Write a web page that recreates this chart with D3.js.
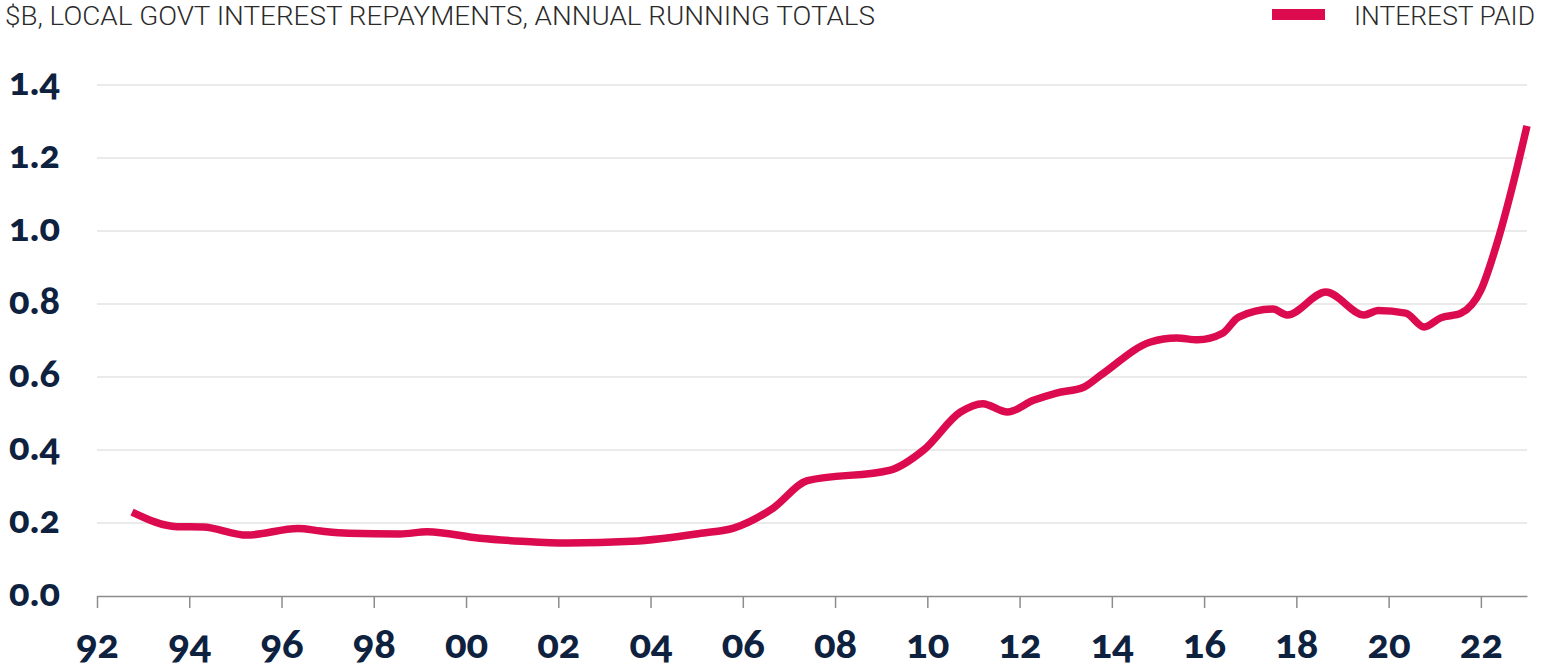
<!DOCTYPE html>
<html>
<head>
<meta charset="utf-8">
<script src="https://cdn.jsdelivr.net/npm/d3@7"></script>
<style>
  html, body { margin: 0; padding: 0; background: #fff; }
  svg { display: block; }
  .title, .legend-text { font-family: Roboto, "Liberation Sans", sans-serif; font-weight: 300; fill: #2a2a2a; }
  .tick-label { font-family: Lato, "Noto Sans", sans-serif; font-weight: 900; fill: #0e2240; font-variant-numeric: oldstyle-nums; font-feature-settings: "onum" 1; }
</style>
</head>
<body>
<svg id="chart" width="1541" height="670"></svg>
<script>
// ---- data ----
const titleText = "$B, LOCAL GOVT INTEREST REPAYMENTS, ANNUAL RUNNING TOTALS";
const seriesName = "INTEREST PAID";
const years = [1992.76, 1993.74, 1994.30, 1995.25, 1996.36, 1996.85, 1997.45, 1998.57, 1999.16, 2000.30,
  2001.20, 2002.20, 2003.60, 2005.10, 2005.80, 2006.66, 2007.40, 2009.20, 2009.92, 2010.72,
  2011.20, 2011.74, 2012.30, 2012.80, 2013.39, 2013.76, 2014.84, 2015.40, 2015.86, 2016.40,
  2016.75, 2017.49, 2017.80, 2018.64, 2019.47, 2019.77, 2020.37, 2020.77, 2021.13, 2021.57,
  2022.00, 2022.37, 2022.72, 2023.00];
const interestPaid = [0.230, 0.190, 0.189, 0.167, 0.185, 0.178, 0.172, 0.170, 0.176, 0.158,
  0.150, 0.145, 0.150, 0.172, 0.186, 0.241, 0.316, 0.345, 0.400, 0.504,
  0.527, 0.504, 0.536, 0.556, 0.572, 0.605, 0.696, 0.707, 0.702, 0.720,
  0.764, 0.786, 0.770, 0.833, 0.770, 0.782, 0.775, 0.737, 0.762, 0.775,
  0.838, 0.975, 1.140, 1.288];
const yTicks = [0, 0.2, 0.4, 0.6, 0.8, 1.0, 1.2, 1.4];
const xTicks = [1992, 1994, 1996, 1998, 2000, 2002, 2004, 2006, 2008, 2010, 2012, 2014, 2016, 2018, 2020, 2022];

// ---- layout ----
const svg = d3.select("#chart");
const x = d3.scaleLinear().domain([1992, 2023]).range([97, 1527]);
const y = d3.scaleLinear().domain([0, 1.4]).range([596, 85]);
const lineColor = "#dc0a4f";

// gridlines
svg.append("g").selectAll("line").data(yTicks.filter(d => d > 0)).join("line")
  .attr("x1", x.range()[0]).attr("x2", x.range()[1])
  .attr("y1", d => y(d)).attr("y2", d => y(d))
  .attr("stroke", "#d6d6d6").attr("stroke-width", 1);

// y labels
svg.append("g").selectAll("text").data(yTicks).join("text")
  .attr("class", "tick-label")
  .attr("x", 9).attr("y", d => y(d))
  .attr("dy", "0.26em")
  .attr("font-size", 38)
  .attr("letter-spacing", 0.5)
  .text(d => d3.format(".1f")(d));

// x axis
const xAxis = d3.axisBottom(x).tickValues(xTicks).tickSize(12).tickSizeOuter(0)
  .tickFormat(d => String(d % 100).padStart(2, "0"));
const gx = svg.append("g").attr("transform", `translate(0,${y(0)})`).call(xAxis);
gx.select(".domain").attr("stroke", "#8c8c8c").attr("stroke-width", 1.5);
gx.selectAll(".tick line").attr("stroke", "#8c8c8c").attr("stroke-width", 1.5);
gx.selectAll(".tick text")
  .attr("class", "tick-label")
  .attr("font-size", 40)
  .attr("y", 62).attr("dy", 0)
  .attr("fill", "#0e2240");

// line
const line = d3.line().x((d, i) => x(years[i])).y(d => y(d)).curve(d3.curveMonotoneX);
svg.append("path").datum(interestPaid)
  .attr("d", line)
  .attr("fill", "none")
  .attr("stroke", lineColor)
  .attr("stroke-width", 7.5)
  .attr("stroke-linejoin", "round")
  .attr("stroke-linecap", "butt");

// title
svg.append("text").attr("class", "title")
  .attr("x", 5).attr("y", 25).attr("font-size", 25)
  .attr("textLength", 870).attr("lengthAdjust", "spacingAndGlyphs")
  .text(titleText);

// legend
svg.append("rect").attr("x", 1272).attr("y", 9).attr("width", 53).attr("height", 11).attr("fill", lineColor);
svg.append("text").attr("class", "legend-text")
  .attr("x", 1354).attr("y", 25).attr("font-size", 25)
  .attr("textLength", 181).attr("lengthAdjust", "spacingAndGlyphs")
  .text(seriesName);
</script>
</body>
</html>
